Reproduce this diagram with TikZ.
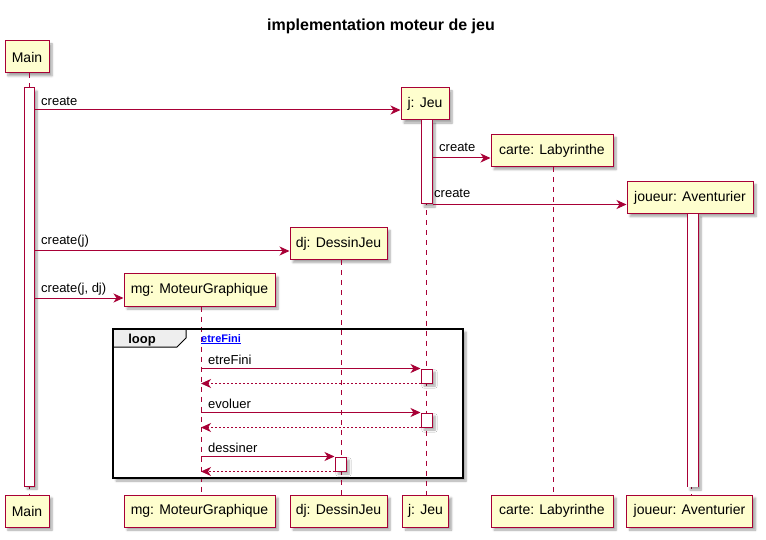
\documentclass[tikz,border=0pt]{standalone}
\usepackage{fontspec}
\setmainfont{Liberation Sans}
\usetikzlibrary{arrows.meta,shadows,shadows.blur}
\definecolor{pbord}{HTML}{A80036}
\definecolor{pfill}{HTML}{FEFECE}
\definecolor{tabfill}{HTML}{EEEEEE}
\begin{document}
\begin{tikzpicture}[x=1pt,y=-1pt,
  shad/.style={blur shadow={shadow xshift=3pt,shadow yshift=-3pt,shadow blur steps=6,shadow opacity=35}},
  part/.style={draw=pbord,fill=pfill,line width=1pt,minimum height=32pt,inner sep=0pt,font=\fontsize{14}{16}\selectfont,shad},
  act/.style={draw=pbord,fill=white,line width=1pt,inner sep=0pt,shad},
  life/.style={draw=pbord,line width=1pt,dash pattern=on 5pt off 5pt},
  msg/.style={draw=pbord,line width=1pt,-{Stealth[length=10pt,width=9pt,inset=3pt]}},
  ret/.style={msg,dash pattern=on 2pt off 2pt},
  lbl/.style={anchor=base west,inner sep=0pt,font=\fontsize{13}{15}\selectfont}]
\useasboundingbox (0,0) rectangle (766,540);

% title
\node[anchor=base,inner sep=0pt,font=\bfseries\fontsize{16}{18}\selectfont] (title) at (381,31) {implementation moteur de jeu};

% loop frame background
\path[fill=white,shad] (113,329) rectangle (463,478);

% lifeline x positions
\coordinate (xMain) at (29,0);
\coordinate (xMg) at (201,0);
\coordinate (xDj) at (341,0);
\coordinate (xJ) at (426,0);
\coordinate (xC) at (553,0);
\coordinate (xP) at (691,0);

% participants
\node[part,minimum width=44pt] (mainT) at (27,57) {Main};
\node[part,minimum width=44pt] (mainB) at (27,511) {Main};
\node[part,minimum width=48pt] (jT) at (425,104) {j: Jeu};
\node[part,minimum width=46pt] (jB) at (425.5,511) {j: Jeu};
\node[part,minimum width=122pt] (cT) at (552,150.5) {carte: Labyrinthe};
\node[part,minimum width=122pt] (cB) at (552,511) {carte: Labyrinthe};
\node[part,minimum width=126pt] (pT) at (690,197.5) {joueur: Aventurier};
\node[part,minimum width=126pt] (pB) at (689.5,511) {joueur: Aventurier};
\node[part,minimum width=97pt] (dT) at (338.5,243.5) {dj: DessinJeu};
\node[part,minimum width=97pt] (dB) at (338.5,511) {dj: DessinJeu};
\node[part,minimum width=151pt] (mT) at (199.5,290) {mg: MoteurGraphique};
\node[part,minimum width=151pt] (mB) at (199.5,511) {mg: MoteurGraphique};

% lifelines
\draw[life] (mainT.south -| xMain) -- (mainB.north -| xMain);
\draw[life] (mT.south -| xMg) -- (mB.north -| xMg);
\draw[life] (dT.south -| xDj) -- (dB.north -| xDj);
\draw[life] (jT.south -| xJ) -- (jB.north -| xJ);
\draw[life] (cT.south -| xC) -- (cB.north -| xC);
\draw[life] (pT.south -| xP) -- (pB.north -| xP);

% loop tab and frame border
\draw[line width=1pt,fill=tabfill] (113,329) -- (186,329) -- (186,338) -- (177,347) -- (113,347) -- cycle;
\draw[line width=1.6pt] (113,329) rectangle (463,478);
\node[anchor=base,inner sep=0pt,font=\bfseries\fontsize{13}{15}\selectfont] (looplbl) at (142,343) {loop};
\node[anchor=base west,inner sep=0pt,font=\bfseries\fontsize{11}{13}\selectfont,text=blue] (guard) at (201,342) {\underline{etreFini}};

% activations
\node[act,minimum width=10pt,minimum height=398pt] (aMain) at (29,287) {};
\node[act,minimum width=11pt,minimum height=84pt] (aJ1) at (426.5,162) {};
\node[act,minimum width=11pt,minimum height=14pt] (aJ2) at (426.5,376) {};
\node[act,minimum width=11pt,minimum height=14pt] (aJ3) at (426.5,420) {};
\node[act,minimum width=11pt,minimum height=14pt] (aD) at (340.5,464) {};
\path[fill=white,shad] (687,214) rectangle (698,487);
\draw[pbord,line width=1pt] (687,214) -- (687,487) (698,214) -- (698,487);

% messages
\draw[msg] (aMain.east |- 0,110) -- (jT.west |- 0,110);
\node[lbl] (l1) at (41,106) {create};
\draw[msg] (aJ1.east |- 0,158) -- (cT.west |- 0,158);
\node[lbl] (l2) at (439,152) {create};
\draw[msg] (aJ1.south east) -- (pT.west |- aJ1.south);
\node[lbl] (l3) at (434,198) {create};
\draw[msg] (aMain.east |- 0,251) -- (dT.west |- 0,251);
\node[lbl] (l4) at (41,245) {create(j)};
\draw[msg] (aMain.east |- 0,298) -- (mT.west |- 0,298);
\node[lbl] (l5) at (41,292) {create(j, dj)};

\draw[msg] (xMg |- aJ2.north) -- (aJ2.north west);
\node[lbl] (l6) at (208,364) {etreFini};
\draw[ret] (aJ2.south west) -- (xMg |- aJ2.south);
\draw[msg] (xMg |- aJ3.north) -- (aJ3.north west);
\node[lbl] (l7) at (208,408) {evoluer};
\draw[ret] (aJ3.south west) -- (xMg |- aJ3.south);
\draw[msg] (xMg |- aD.north) -- (aD.north west);
\node[lbl] (l8) at (208,452) {dessiner};
\draw[ret] (aD.south west) -- (xMg |- aD.south);
\end{tikzpicture}
\end{document}
